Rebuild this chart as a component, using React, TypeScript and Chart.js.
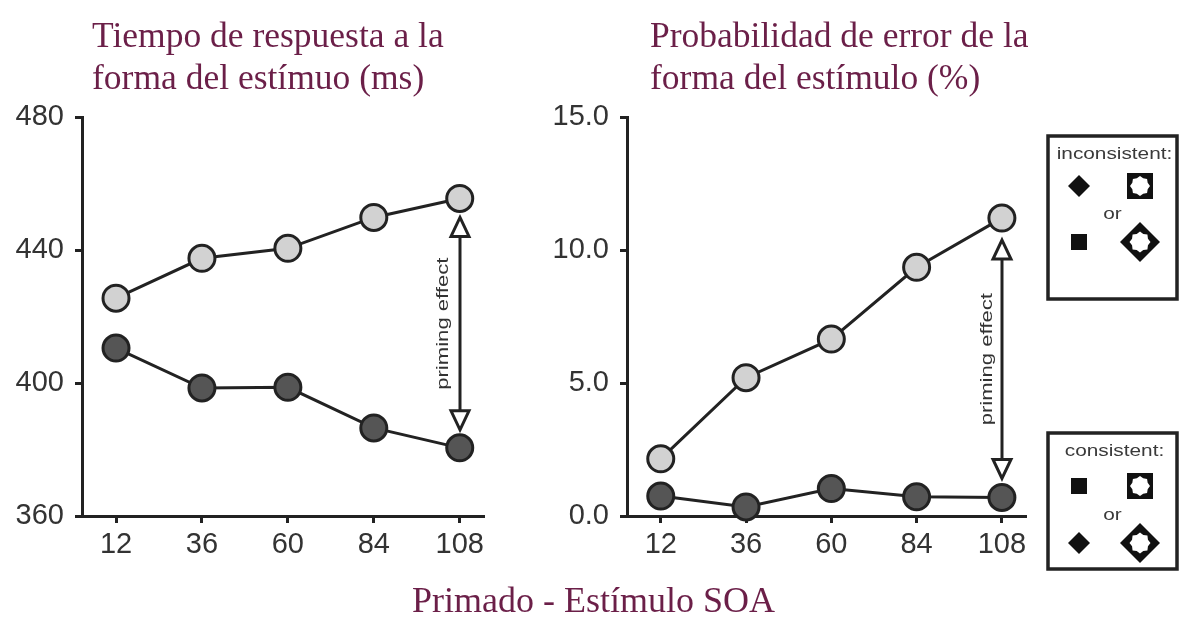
import React, { useEffect, useRef } from "react";
import { Chart, registerables } from "chart.js";

Chart.register(...registerables);

const soa = [12, 36, 60, 84, 108];
const rtInconsistent = [425.5, 437.5, 440.5, 449.8, 455.5];
const rtConsistent = [410.5, 398.5, 398.7, 386.5, 380.5];
const errInconsistent = [2.15, 5.2, 6.65, 9.35, 11.2];
const errConsistent = [0.75, 0.34, 1.03, 0.72, 0.7];

const leftTitle = ["Tiempo de respuesta a la", "forma del estímuo (ms)"];
const rightTitle = ["Probabilidad de error de la", "forma del estímulo (%)"];
const xTitle = "Primado - Estímulo SOA";
const arrowLabel = "priming effect";
const legendTop = "inconsistent:";
const legendBottom = "consistent:";
const orLabel = "or";

const INK = "#222";
const LIGHT = "#d2d2d2";
const DARK = "#555";
const SANS = "'Liberation Sans', Arial, sans-serif";
const SERIF = "'Liberation Serif', 'Times New Roman', serif";
const TITLE_COLOR = "#6b1f48";

function starPath(ctx: CanvasRenderingContext2D, cx: number, cy: number, R: number, r: number) {
  ctx.beginPath();
  for (let i = 0; i < 16; i++) {
    const a = (Math.PI / 8) * i - Math.PI / 2;
    const rad = i % 2 === 0 ? R : r;
    const x = cx + rad * Math.cos(a);
    const y = cy + rad * Math.sin(a);
    if (i === 0) ctx.moveTo(x, y);
    else ctx.lineTo(x, y);
  }
  ctx.closePath();
}

function diamond(ctx: CanvasRenderingContext2D, cx: number, cy: number, h: number) {
  ctx.beginPath();
  ctx.moveTo(cx, cy - h);
  ctx.lineTo(cx + h, cy);
  ctx.lineTo(cx, cy + h);
  ctx.lineTo(cx - h, cy);
  ctx.closePath();
}

const arrowPlugin = {
  id: "primingArrow",
  afterDatasetsDraw(chart: any) {
    const opts = chart.options.plugins.primingArrow;
    if (!opts) return;
    const ctx = chart.ctx as CanvasRenderingContext2D;
    const xs = chart.scales.x;
    const ys = chart.scales.y;
    const last = soa.length - 1;
    const x = Math.round(xs.getPixelForValue(soa[last]));
    const top = ys.getPixelForValue(opts.hi[last]) + opts.gapHigh;
    const bottom = ys.getPixelForValue(opts.lo[last]) - opts.gapLow;
    const th = 19;
    const tw = 9;
    ctx.save();
    ctx.strokeStyle = INK;
    ctx.lineWidth = 3;
    ctx.beginPath();
    ctx.moveTo(x, top + th);
    ctx.lineTo(x, bottom - th);
    ctx.stroke();
    ctx.fillStyle = "#fff";
    ctx.lineJoin = "miter";
    ctx.beginPath();
    ctx.moveTo(x, top);
    ctx.lineTo(x + tw, top + th);
    ctx.lineTo(x - tw, top + th);
    ctx.closePath();
    ctx.fill();
    ctx.stroke();
    ctx.beginPath();
    ctx.moveTo(x, bottom);
    ctx.lineTo(x + tw, bottom - th);
    ctx.lineTo(x - tw, bottom - th);
    ctx.closePath();
    ctx.fill();
    ctx.stroke();
    // label
    ctx.translate(x - opts.textOffset, (top + bottom) / 2);
    ctx.rotate(-Math.PI / 2);
    ctx.scale(1.3, 1);
    ctx.fillStyle = "#333";
    ctx.font = `17px ${SANS}`;
    ctx.textAlign = "center";
    ctx.textBaseline = "middle";
    ctx.fillText(arrowLabel, 0, 0);
    ctx.restore();
  },
};

const legendPlugin = {
  id: "shapeLegend",
  afterDraw(chart: any) {
    const opts = chart.options.plugins.shapeLegend;
    if (!opts) return;
    const ctx = chart.ctx as CanvasRenderingContext2D;
    const left = chart.chartArea.right + 23;
    const w = 129;
    const boxes = [
      { top: 136, h: 163, label: legendTop, rows: ["diamond", "sqHole", "square", "diaHole"] },
      { top: 433, h: 136, label: legendBottom, rows: ["square", "sqHole", "diamond", "diaHole"] },
    ];
    ctx.save();
    for (const b of boxes) {
      ctx.lineWidth = 3.5;
      ctx.strokeStyle = INK;
      ctx.fillStyle = "#fff";
      ctx.fillRect(left, b.top, w, b.h);
      ctx.strokeRect(left, b.top, w, b.h);
      const cx = left + w / 2;
      ctx.fillStyle = "#3a3a3a";
      ctx.textAlign = "center";
      ctx.textBaseline = "middle";
      ctx.save();
      ctx.translate(cx + 2, b.top + 19);
      ctx.scale(1.3, 1);
      ctx.font = `16px ${SANS}`;
      ctx.fillText(b.label, 0, 0);
      ctx.restore();
      const c1 = left + 31;
      const c2 = left + 92;
      const isTop = b === boxes[0];
      const r1 = b.top + (isTop ? 50 : 53);
      const r2 = b.top + (isTop ? 106 : 110);
      ctx.save();
      ctx.translate(cx, (r1 + r2) / 2 + 1);
      ctx.scale(1.3, 1);
      ctx.font = `16px ${SANS}`;
      ctx.fillText(orLabel, 0, 0);
      ctx.restore();
      const spots = [
        [c1, r1],
        [c2, r1],
        [c1, r2],
        [c2, r2],
      ];
      b.rows.forEach((kind, i) => {
        const [sx, sy] = spots[i];
        ctx.fillStyle = "#111";
        if (kind === "diamond") {
          diamond(ctx, sx, sy, 11);
          ctx.fill();
        } else if (kind === "square") {
          ctx.fillRect(sx - 8, sy - 8, 16, 16);
        } else if (kind === "sqHole") {
          ctx.fillRect(sx - 13, sy - 13, 26, 26);
          ctx.fillStyle = "#fff";
          starPath(ctx, sx, sy, 10, 8.3);
          ctx.fill();
        } else {
          diamond(ctx, sx, sy, 20);
          ctx.fill();
          ctx.fillStyle = "#fff";
          starPath(ctx, sx, sy, 10.5, 8.6);
          ctx.fill();
        }
      });
    }
    ctx.restore();
  },
};

function makeConfig(
  hi: number[],
  lo: number[],
  yMin: number,
  yMax: number,
  step: number,
  yWidth: number,
  rightPad: number,
  decimals: number,
  extra: any
) {
  const pts = (arr: number[]) => soa.map((x, i) => ({ x, y: arr[i] }));
  const ds = (arr: number[], fill: string) => ({
    data: pts(arr),
    borderColor: INK,
    borderWidth: 3,
    backgroundColor: fill,
    pointBackgroundColor: fill,
    pointBorderColor: INK,
    pointBorderWidth: 3,
    pointRadius: 13,
    pointHoverRadius: 13,
    clip: false,
    tension: 0,
  });
  return {
    type: "line",
    data: { datasets: [ds(hi, LIGHT), ds(lo, DARK)] },
    options: {
      responsive: false,
      animation: false,
      events: [],
      layout: { padding: { left: 0, right: rightPad, top: 117, bottom: 45 } },
      plugins: {
        legend: { display: false },
        tooltip: { enabled: false },
        title: { display: false },
        ...extra,
      },
      scales: {
        x: {
          type: "linear",
          min: 2.5,
          max: 114.5,
          afterFit: (s: any) => {
            s.height = 60;
          },
          afterBuildTicks: (s: any) => {
            s.ticks = soa.map((v) => ({ value: v }));
          },
          grid: { display: true, drawOnChartArea: false, drawTicks: true, tickLength: 7, color: INK, lineWidth: 3 },
          border: { display: true, color: INK, width: 3 },
          ticks: { color: "#333", font: { family: SANS, size: 29 }, padding: 5, maxRotation: 0, autoSkip: false },
        },
        y: {
          type: "linear",
          min: yMin,
          max: yMax,
          afterFit: (s: any) => {
            s.width = yWidth;
          },
          grid: { display: true, drawOnChartArea: false, drawTicks: true, tickLength: 7, color: INK, lineWidth: 3 },
          border: { display: true, color: INK, width: 3 },
          ticks: {
            stepSize: step,
            color: "#333",
            font: { family: SANS, size: 29 },
            padding: 11,
            callback: (v: any) => Number(v).toFixed(decimals),
          },
        },
      },
    },
    plugins: [arrowPlugin, legendPlugin],
  } as any;
}

const titleStyle = (left: number): React.CSSProperties => ({
  position: "absolute",
  left,
  top: 14,
  fontFamily: SERIF,
  fontSize: 35.5,
  lineHeight: "42px",
  color: TITLE_COLOR,
  whiteSpace: "nowrap",
  margin: 0,
});

export default function App() {
  const leftRef = useRef<HTMLCanvasElement>(null);
  const rightRef = useRef<HTMLCanvasElement>(null);

  useEffect(() => {
    const c1 = new Chart(
      leftRef.current as HTMLCanvasElement,
      makeConfig(rtInconsistent, rtConsistent, 360, 480, 40, 82, 57, 0, {
        primingArrow: { hi: rtInconsistent, lo: rtConsistent, gapHigh: 19, gapLow: 18, textOffset: 17 },
      })
    );
    const c2 = new Chart(
      rightRef.current as HTMLCanvasElement,
      makeConfig(errInconsistent, errConsistent, 0, 15, 5, 87, 156, 1, {
        primingArrow: { hi: errInconsistent, lo: errConsistent, gapHigh: 22, gapLow: 19, textOffset: 15 },
        shapeLegend: {},
      })
    );
    return () => {
      c1.destroy();
      c2.destroy();
    };
  }, []);

  return (
    <div style={{ position: "absolute", left: 0, top: 0, width: 1181, height: 621, background: "#fff", overflow: "hidden" }}>
      <canvas ref={leftRef} width={540} height={621} style={{ position: "absolute", left: 0, top: 0 }} />
      <canvas ref={rightRef} width={641} height={621} style={{ position: "absolute", left: 540, top: 0 }} />
      <div style={titleStyle(92)}>
        {leftTitle[0]}
        <br />
        {leftTitle[1]}
      </div>
      <div style={titleStyle(650)}>
        {rightTitle[0]}
        <br />
        {rightTitle[1]}
      </div>
      <div
        style={{
          position: "absolute",
          left: 0,
          width: 1187,
          top: 580,
          textAlign: "center",
          fontFamily: SERIF,
          fontSize: 36,
          lineHeight: "40px",
          color: TITLE_COLOR,
        }}
      >
        {xTitle}
      </div>
    </div>
  );
}
